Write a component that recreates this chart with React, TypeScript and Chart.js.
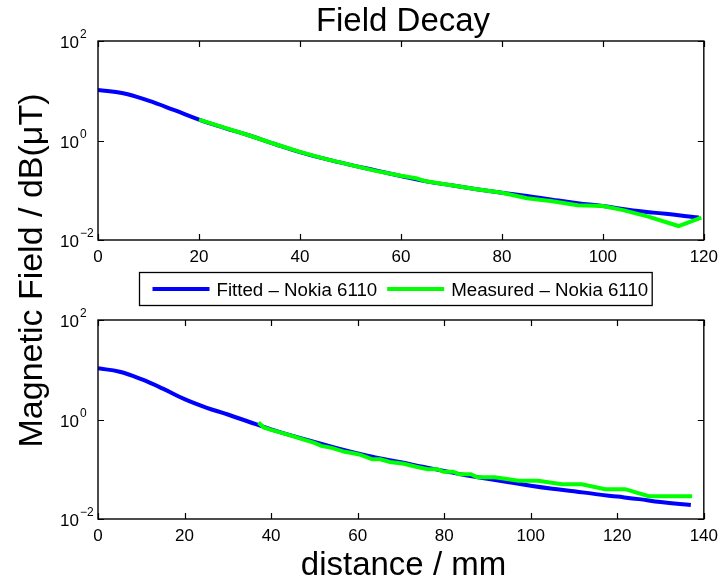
import React, { useEffect, useRef } from "react";
import { Chart, registerables } from "chart.js";

Chart.register(...registerables);

const FONT = '"Liberation Sans", Arial, Helvetica, sans-serif';

const chartTitle = "Field Decay";
const xAxisTitle = "distance / mm";
const yAxisTitle = "Magnetic Field / dB(\u03BCT)";
const fittedLabel = "Fitted \u2013 Nokia 6110";
const measuredLabel = "Measured \u2013 Nokia 6110";

const yTickValues = [0.01, 1, 100];
const topXMax = 120;
const bottomXMax = 140;
const xTickStep = 20;

// Upper panel
const topFittedDistance = [0, 5, 10, 15, 20, 25, 30, 35, 40, 45, 50, 55, 60, 65, 70, 75, 80, 85, 90, 95, 100, 105, 110, 115, 119];
const topFittedField = [10.35, 8.91, 6.31, 4.12, 2.63, 1.8, 1.26, 0.851, 0.582, 0.427, 0.324, 0.251, 0.193, 0.151, 0.126, 0.105, 0.0891, 0.0767, 0.0646, 0.055, 0.0483, 0.0407, 0.0355, 0.0316, 0.0282];
const topMeasuredDistance = [20, 25, 30, 35, 40, 45, 50, 55, 60, 63, 65, 70, 75, 80, 85, 90, 95, 100, 104, 109, 115, 119.5];
const topMeasuredField = [2.63, 1.82, 1.26, 0.851, 0.589, 0.427, 0.324, 0.245, 0.195, 0.174, 0.151, 0.126, 0.105, 0.0891, 0.0692, 0.0603, 0.0501, 0.0483, 0.0398, 0.0295, 0.0191, 0.0282];

// Lower panel
const bottomFittedDistance = [0, 5, 10, 15, 20, 25, 30, 35, 40, 45, 50, 55, 60, 65, 70, 75, 80, 85, 90, 95, 100, 105, 110, 115, 120, 125, 130, 137];
const bottomFittedField = [10.7, 9.12, 6.46, 4.17, 2.57, 1.74, 1.26, 0.891, 0.635, 0.468, 0.355, 0.269, 0.209, 0.166, 0.138, 0.112, 0.0923, 0.0759, 0.0646, 0.055, 0.0468, 0.0407, 0.0363, 0.0316, 0.0282, 0.0251, 0.0219, 0.0191];
const bottomMeasuredDistance = [37.1, 38.3, 40, 43.3, 47, 50, 51.6, 54, 57, 59, 60.7, 63.4, 65.2, 67.5, 70.7, 73.5, 76.2, 78.5, 79.8, 82.1, 83.5, 86.2, 87.6, 91.7, 97.2, 101.7, 107.2, 111.8, 117.2, 121.8, 127.3, 137.3];
const bottomMeasuredField = [0.871, 0.692, 0.617, 0.513, 0.407, 0.339, 0.295, 0.269, 0.224, 0.209, 0.195, 0.158, 0.158, 0.14, 0.129, 0.112, 0.1, 0.1, 0.0891, 0.0891, 0.0794, 0.0794, 0.0692, 0.0692, 0.0589, 0.0589, 0.0501, 0.0501, 0.0398, 0.0398, 0.0288, 0.0288];

const FITTED_COLOR = "rgb(0,0,255)";
const MEASURED_COLOR = "rgb(0,255,0)";
const W = 725;
const H = 583;

const framePlugin = {
  id: "frame",
  afterDatasetsDraw(chart: any) {
    const { ctx, chartArea: a } = chart;
    const xs = chart.scales.x;
    const ys = chart.scales.y;
    ctx.save();
    ctx.strokeStyle = "#000";
    ctx.lineWidth = 1.4;
    ctx.strokeRect(a.left, a.top, a.right - a.left, a.bottom - a.top);
    const tl = 6;
    ctx.beginPath();
    xs.ticks.forEach((t: any) => {
      const px = Math.round(xs.getPixelForValue(t.value)) + 0.5;
      ctx.moveTo(px, a.bottom);
      ctx.lineTo(px, a.bottom - tl);
      ctx.moveTo(px, a.top);
      ctx.lineTo(px, a.top + tl);
    });
    yTickValues.forEach((v) => {
      const py = Math.round(ys.getPixelForValue(v)) + 0.5;
      ctx.moveTo(a.left, py);
      ctx.lineTo(a.left + tl, py);
      ctx.moveTo(a.right, py);
      ctx.lineTo(a.right - tl, py);
    });
    ctx.lineWidth = 1.2;
    ctx.stroke();
    ctx.fillStyle = "#000";
    yTickValues.forEach((v) => {
      const py = ys.getPixelForValue(v);
      const exp = String(Math.round(Math.log10(v))).replace("-", "\u2212");
      const baseX = a.left - 19;
      ctx.font = `17px ${FONT}`;
      ctx.textAlign = "right";
      ctx.textBaseline = "alphabetic";
      ctx.fillText("10", baseX, py + 7);
      ctx.font = `12px ${FONT}`;
      ctx.textAlign = "left";
      ctx.fillText(exp, baseX + 1, py - 3);
    });
    ctx.restore();
  },
};

const overlayPlugin = {
  id: "overlay",
  afterDraw(chart: any) {
    const { ctx } = chart;
    ctx.save();
    ctx.fillStyle = "#000";
    ctx.textBaseline = "alphabetic";
    // title
    ctx.font = `33px ${FONT}`;
    ctx.textAlign = "center";
    ctx.fillText(chartTitle, 403, 31);
    // x label
    ctx.font = `33px ${FONT}`;
    ctx.fillText(xAxisTitle, 403.5, 575);
    // y label
    ctx.save();
    ctx.translate(42, 270.5);
    ctx.rotate(-Math.PI / 2);
    ctx.font = `34px ${FONT}`;
    ctx.fillText(yAxisTitle, 0, 0);
    ctx.restore();
    // legend
    const ds = chart.data.datasets;
    const items = [ds[0], ds[1]];
    ctx.font = `18.7px ${FONT}`;
    const boxL = 139.5;
    const boxT = 272.5;
    const boxH = 33;
    const lineY = 289;
    let x = boxL + 13;
    const segs: any[] = [];
    items.forEach((d: any, i: number) => {
      const x0 = x;
      const x1 = x0 + 57;
      const tx = x1 + 7;
      const tw = ctx.measureText(d.label).width;
      segs.push({ d, x0, x1, tx });
      x = tx + tw + (i === 0 ? 10 : 4);
    });
    const boxR = x;
    ctx.fillStyle = "#fff";
    ctx.fillRect(boxL, boxT, boxR - boxL, boxH);
    ctx.strokeStyle = "#000";
    ctx.lineWidth = 1.3;
    ctx.strokeRect(boxL, boxT, boxR - boxL, boxH);
    segs.forEach((s) => {
      ctx.strokeStyle = s.d.borderColor;
      ctx.lineWidth = 4;
      ctx.beginPath();
      ctx.moveTo(s.x0, lineY);
      ctx.lineTo(s.x1, lineY);
      ctx.stroke();
      ctx.fillStyle = "#000";
      ctx.textAlign = "left";
      ctx.fillText(s.d.label, s.tx, 295.5);
    });
    ctx.restore();
  },
};

function makeConfig(
  fd: number[],
  ff: number[],
  md: number[],
  mf: number[],
  xMax: number,
  areaTop: number,
  areaBottom: number,
  extra: any[]
): any {
  const xAxisH = 30;
  return {
    type: "line",
    data: {
      datasets: [
        {
          label: fittedLabel,
          data: fd.map((d, i) => ({ x: d, y: ff[i] })),
          borderColor: FITTED_COLOR,
          backgroundColor: FITTED_COLOR,
          borderWidth: 4,
          pointRadius: 0,
          tension: 0.4,
          order: 1,
        },
        {
          label: measuredLabel,
          data: md.map((d, i) => ({ x: d, y: mf[i] })),
          borderColor: MEASURED_COLOR,
          backgroundColor: MEASURED_COLOR,
          borderWidth: 4,
          pointRadius: 0,
          tension: 0,
          order: 0,
        },
      ],
    },
    options: {
      responsive: false,
      animation: false,
      devicePixelRatio: 1,
      layout: {
        padding: { left: 98, right: W - 708, top: areaTop, bottom: H - areaBottom - xAxisH },
      },
      plugins: {
        legend: { display: false },
        title: { display: false },
        tooltip: { enabled: false },
      },
      scales: {
        x: {
          type: "linear",
          min: 0,
          max: xMax,
          grid: { display: false, drawTicks: false },
          border: { display: false },
          ticks: {
            stepSize: xTickStep,
            color: "#000",
            font: { family: FONT, size: 17 },
            padding: 7,
            maxRotation: 0,
          },
          afterFit: (s: any) => {
            s.height = xAxisH;
          },
        },
        y: {
          type: "logarithmic",
          min: 0.01,
          max: 100,
          grid: { display: false, drawTicks: false },
          border: { display: false },
          ticks: { display: false },
          afterFit: (s: any) => {
            s.width = 0;
          },
        },
      },
    },
    plugins: [framePlugin, ...extra],
  };
}

export default function App() {
  const topRef = useRef<HTMLCanvasElement>(null);
  const botRef = useRef<HTMLCanvasElement>(null);
  useEffect(() => {
    document.body.style.margin = "0";
    const c1 = new Chart(
      topRef.current as HTMLCanvasElement,
      makeConfig(topFittedDistance, topFittedField, topMeasuredDistance, topMeasuredField, topXMax, 41, 240, [])
    );
    const c2 = new Chart(
      botRef.current as HTMLCanvasElement,
      makeConfig(bottomFittedDistance, bottomFittedField, bottomMeasuredDistance, bottomMeasuredField, bottomXMax, 320, 519, [overlayPlugin])
    );
    return () => {
      c1.destroy();
      c2.destroy();
    };
  }, []);
  return (
    <div style={{ position: "relative", width: W, height: H, background: "#fff" }}>
      <canvas ref={topRef} width={W} height={H} style={{ position: "absolute", left: 0, top: 0 }} />
      <canvas ref={botRef} width={W} height={H} style={{ position: "absolute", left: 0, top: 0 }} />
    </div>
  );
}
